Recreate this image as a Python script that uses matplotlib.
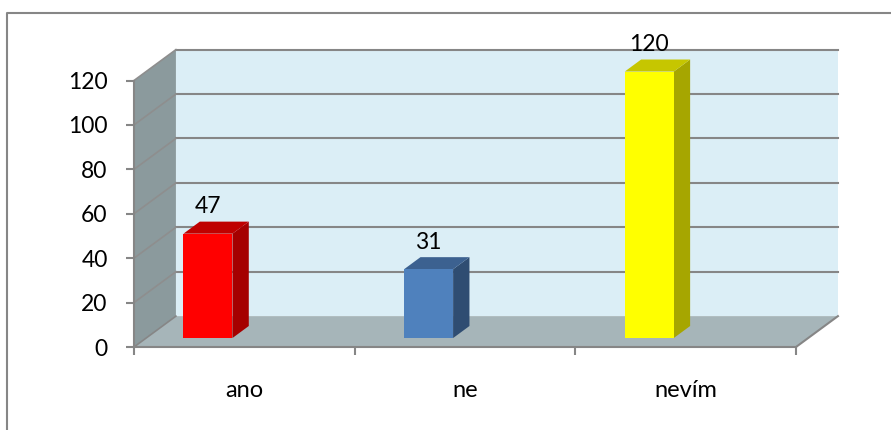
import matplotlib
matplotlib.use('Agg')
import matplotlib.pyplot as plt
from matplotlib.lines import Line2D

categories = ['ano', 'ne', 'nevím']
values = [47, 31, 120]
y_ticks = [0, 20, 40, 60, 80, 100, 120]
front_colors = ['#ff0000', '#4f81bd', '#ffff00']
top_colors = ['#bf0000', '#3c6190', '#c6c600']
side_colors = ['#a50000', '#2f4d72', '#a6a600']

# posun hloubky v datovych jednotkach
depth_x = 0.19
depth_y = 13.9
bar_shift = -0.22
bar_width = 0.222
bar_depth_start = 0.29
bar_depth = 0.39

grey = '#868686'


def proj(x, y, d):
    return x + d * depth_x, y + d * depth_y


def face(ax, pts, color, zorder, edge='none'):
    xy = [proj(*p) for p in pts]
    ax.fill([p[0] for p in xy], [p[1] for p in xy], facecolor=color,
            edgecolor=edge, linewidth=0, zorder=zorder, clip_on=False)


plt.rcParams['font.family'] = ['Lato', 'DejaVu Sans']
fig = plt.figure(figsize=(8.91, 4.30), dpi=100)
ax = fig.add_axes([134 / 891, 1 - 347 / 430, 662 / 891, 266.5 / 430])
ax.patch.set_visible(False)
ax.set_xlim(0, len(categories))
ax.set_ylim(0, y_ticks[-1])
xmax = len(categories)
ymax = y_ticks[-1]

# steny a podlaha
face(ax, [(0, 0, 1), (xmax, 0, 1), (xmax, ymax, 1), (0, ymax, 1)], '#dbeef6', 1)
face(ax, [(0, 0, 0), (0, 0, 1), (0, ymax, 1), (0, ymax, 0)], '#8b9a9d', 1)
face(ax, [(0, 0, 0), (xmax, 0, 0), (xmax, 0, 1), (0, 0, 1)], '#a6b5b9', 2)

for t in y_ticks[1:]:
    x0, y0 = proj(0, t, 0)
    x1, y1 = proj(0, t, 1)
    x2, y2 = proj(xmax, t, 1)
    ax.plot([x1, x2], [y1, y2], color=grey, lw=1.5, zorder=2, clip_on=False)
    ax.plot([x0, x1], [y0, y1], color='#8e8e8e', lw=1.2, zorder=2, clip_on=False)

x1, y1 = proj(xmax, 0, 0)
x2, y2 = proj(xmax, 0, 1)
ax.plot([x1, x2], [y1, y2], color=grey, lw=1.5, zorder=3, clip_on=False)
x1, y1 = proj(0, 0, 0)
x2, y2 = proj(0, 0, 1)
ax.plot([x1, x2], [y1, y2], color=grey, lw=1.2, zorder=3, clip_on=False)

# sloupce
for i, v in enumerate(values):
    left = i + 0.5 + bar_shift - bar_width / 2
    right = left + bar_width
    d0 = bar_depth_start
    d1 = bar_depth_start + bar_depth
    x0, y0 = proj(left, 0, d0)
    ax.bar(x0, v, width=bar_width, bottom=y0, align='edge', color=front_colors[i],
           zorder=6, clip_on=False)
    face(ax, [(right, 0, d0), (right, 0, d1), (right, v, d1), (right, v, d0)], side_colors[i], 5)
    face(ax, [(left, v, d0), (right, v, d0), (right, v, d1), (left, v, d1)], top_colors[i], 5)
    lx, _ = proj(left + bar_width / 2, v, d0)
    _, ly = proj(left, v, d1)
    ax.annotate(str(v), (lx, ly), xytext=(0, 3), textcoords='offset points', ha='center',
                va='bottom', fontsize=16.5, color='black', zorder=8, annotation_clip=False)

ax.set_yticks(y_ticks)
ax.set_xticks(range(xmax + 1))
ax.set_xticklabels([])
ax.set_xticks([i + 0.5 for i in range(xmax)], labels=categories, minor=True)
ax.tick_params(axis='x', which='major', length=6, width=1.5, color=grey)
ax.tick_params(axis='x', which='minor', length=0, pad=24, labelsize=17)
ax.tick_params(axis='y', length=6, width=1.5, color=grey, pad=13, labelsize=16.5)

ax.spines['top'].set_visible(False)
ax.spines['right'].set_visible(False)
for s in ['left', 'bottom']:
    ax.spines[s].set_color(grey)
    ax.spines[s].set_linewidth(1.5)
    ax.spines[s].set_zorder(4)

# ramecek grafu
fig.add_artist(Line2D([7 / 891, 7 / 891, 1], [0, 1 - 13 / 430, 1 - 13 / 430], color=grey, lw=1.5))

fig.savefig('out.png', dpi=100)
